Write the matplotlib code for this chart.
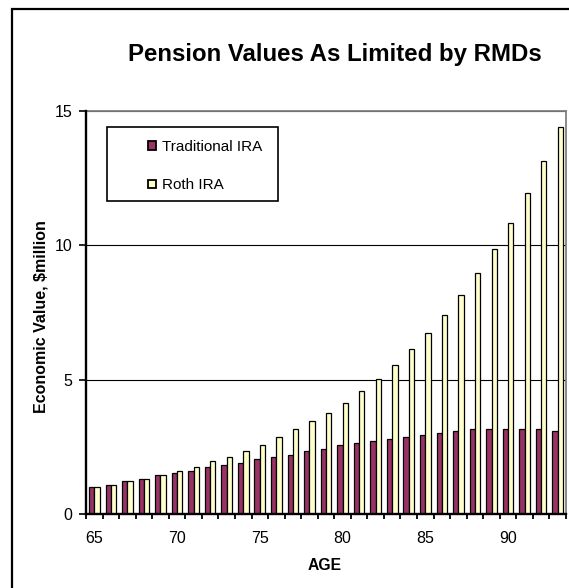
import matplotlib
matplotlib.use("Agg")
import matplotlib.pyplot as plt
from matplotlib.patches import Rectangle
import numpy as np

plt.rcParams['font.family'] = ['Liberation Sans', 'DejaVu Sans']

# Data (values in $ million)
ages = list(range(65, 94))
traditional = [1.00, 1.07, 1.22, 1.29, 1.44, 1.51, 1.59, 1.74, 1.81, 1.89,
               2.04, 2.11, 2.19, 2.33, 2.41, 2.56, 2.63, 2.71, 2.78, 2.86,
               2.93, 3.00, 3.08, 3.15, 3.15, 3.15, 3.15, 3.15, 3.08]
roth = [1.00, 1.07, 1.22, 1.29, 1.44, 1.59, 1.74, 1.96, 2.11, 2.33,
        2.56, 2.85, 3.15, 3.45, 3.75, 4.12, 4.57, 5.01, 5.53, 6.13,
        6.72, 7.39, 8.14, 8.96, 9.85, 10.82, 11.94, 13.13, 14.39]
series_labels = ["Traditional IRA", "Roth IRA"]
y_ticks = [0, 5, 10, 15]

W, H = 569, 588
fig = plt.figure(figsize=(W / 100, H / 100), dpi=100)
fig.patch.set_facecolor('white')

# plot area in pixel terms
left, right, top, bottom = 86, 566, 111, 514
ax = fig.add_axes([left / W, 1 - bottom / H, (right - left) / W, (bottom - top) / H])

x = np.arange(len(ages))
bw = 0.32
trad_color = '#993366'
roth_color = '#FFFFCC'
ax.bar(x - bw / 2, traditional, width=bw, color=trad_color, edgecolor='black',
       linewidth=0.9, zorder=3, label=series_labels[0])
ax.bar(x + bw / 2, roth, width=bw, color=roth_color, edgecolor='black',
       linewidth=0.9, zorder=3, label=series_labels[1])

ax.set_xlim(-0.5, len(ages) - 0.5)
ax.set_ylim(0, 15)

# x axis: labels every 5 years, tick marks on category boundaries
label_idx = [i for i, a in enumerate(ages) if a % 5 == 0]
ax.set_xticks(label_idx)
ax.set_xticklabels([str(ages[i]) for i in label_idx], fontsize=11.5)
ax.set_xticks(np.arange(-0.5, len(ages), 1.0), minor=True)
ax.tick_params(axis='x', which='major', length=0, pad=12)
ax.tick_params(axis='x', which='minor', length=3.5, width=1.3, direction='out', color='black')

ax.set_yticks(y_ticks)
ax.set_yticklabels([str(v) for v in y_ticks], fontsize=11.5)
ax.tick_params(axis='y', length=5, width=1.2, direction='out', pad=5, color='black')

ax.yaxis.grid(True, color='black', linewidth=0.8, zorder=0)
ax.set_axisbelow(True)

for s in ['left', 'bottom']:
    ax.spines[s].set_color('black')
    ax.spines[s].set_linewidth(1.7)
for s in ['top', 'right']:
    ax.spines[s].set_color('#808080')
    ax.spines[s].set_linewidth(1.3)
ax.spines['left'].set_zorder(4)
ax.spines['bottom'].set_zorder(4)

# legend frame and entries
lx0, ly0, lx1, ly1 = 107, 127, 278, 201
ax.add_patch(Rectangle(((lx0 - left) / (right - left), (bottom - ly1) / (bottom - top)),
                       (lx1 - lx0) / (right - left), (ly1 - ly0) / (bottom - top),
                       transform=ax.transAxes, facecolor='white', edgecolor='black',
                       linewidth=1.2, zorder=5))
leg = ax.legend(loc='upper left',
                bbox_to_anchor=((148 - left) / (right - left), (bottom - 140) / (bottom - top)),
                frameon=False, fontsize=11, handlelength=0.5, handleheight=0.5,
                handletextpad=0.4, labelspacing=1.6, borderaxespad=0, borderpad=0)
leg.set_zorder(6)
for h in leg.legend_handles:
    h.set_linewidth(1.3)

# titles
fig.text(335 / W, 1 - 61 / H, "Pension Values As Limited by RMDs", fontsize=17.3,
         fontweight='bold', ha='center', va='baseline')
fig.text(41 / W, 1 - 317 / H, "Economic Value, $million", fontsize=11.5,
         fontweight='bold', rotation=90, ha='center', va='center')
fig.text(325 / W, 1 - 566 / H, "AGE", fontsize=11.3, fontweight='bold',
         ha='center', va='center')

# outer chart frame
fig.patches.append(Rectangle((12 / W, -0.1), 2.0, 1 - 9 / H + 0.1,
                             transform=fig.transFigure, facecolor='none',
                             edgecolor='black', linewidth=1.6))

fig.savefig("out.png", dpi=100)
